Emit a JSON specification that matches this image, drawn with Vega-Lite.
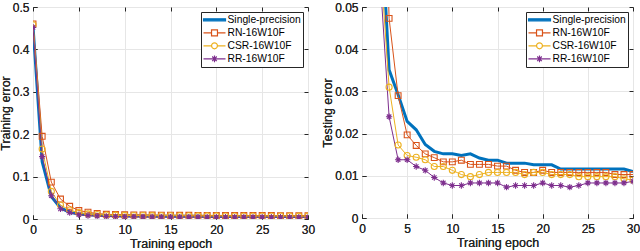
{
"$schema": "https://vega.github.io/schema/vega-lite/v6.json",
"padding": {"left": -2, "top": 0, "right": 0, "bottom": 0},
"datasets": {
"train": [
{"s":"Single-precision","e":0,"v":0.455},{"s":"Single-precision","e":1,"v":0.135},{"s":"Single-precision","e":2,"v":0.053},{"s":"Single-precision","e":3,"v":0.026},{"s":"Single-precision","e":4,"v":0.016},{"s":"Single-precision","e":5,"v":0.012},{"s":"Single-precision","e":6,"v":0.010},{"s":"Single-precision","e":7,"v":0.009},{"s":"Single-precision","e":8,"v":0.008},{"s":"Single-precision","e":9,"v":0.0075},{"s":"Single-precision","e":10,"v":0.0072},{"s":"Single-precision","e":11,"v":0.007},{"s":"Single-precision","e":12,"v":0.0068},{"s":"Single-precision","e":13,"v":0.0066},{"s":"Single-precision","e":14,"v":0.0065},{"s":"Single-precision","e":15,"v":0.0064},{"s":"Single-precision","e":16,"v":0.0063},{"s":"Single-precision","e":17,"v":0.0062},{"s":"Single-precision","e":18,"v":0.0062},{"s":"Single-precision","e":19,"v":0.0061},{"s":"Single-precision","e":20,"v":0.006},{"s":"Single-precision","e":21,"v":0.006},{"s":"Single-precision","e":22,"v":0.006},{"s":"Single-precision","e":23,"v":0.0059},{"s":"Single-precision","e":24,"v":0.0059},{"s":"Single-precision","e":25,"v":0.0058},{"s":"Single-precision","e":26,"v":0.0058},{"s":"Single-precision","e":27,"v":0.0058},{"s":"Single-precision","e":28,"v":0.0057},{"s":"Single-precision","e":29,"v":0.0057},{"s":"Single-precision","e":30,"v":0.0057},
{"s":"RN-16W10F","e":0,"v":0.46},{"s":"RN-16W10F","e":1,"v":0.195},{"s":"RN-16W10F","e":2,"v":0.087},{"s":"RN-16W10F","e":3,"v":0.047},{"s":"RN-16W10F","e":4,"v":0.03},{"s":"RN-16W10F","e":5,"v":0.02},{"s":"RN-16W10F","e":6,"v":0.016},{"s":"RN-16W10F","e":7,"v":0.013},{"s":"RN-16W10F","e":8,"v":0.011},{"s":"RN-16W10F","e":9,"v":0.0105},{"s":"RN-16W10F","e":10,"v":0.01},{"s":"RN-16W10F","e":11,"v":0.0098},{"s":"RN-16W10F","e":12,"v":0.0095},{"s":"RN-16W10F","e":13,"v":0.0093},{"s":"RN-16W10F","e":14,"v":0.009},{"s":"RN-16W10F","e":15,"v":0.009},{"s":"RN-16W10F","e":16,"v":0.0088},{"s":"RN-16W10F","e":17,"v":0.0087},{"s":"RN-16W10F","e":18,"v":0.0086},{"s":"RN-16W10F","e":19,"v":0.0085},{"s":"RN-16W10F","e":20,"v":0.0084},{"s":"RN-16W10F","e":21,"v":0.0083},{"s":"RN-16W10F","e":22,"v":0.0083},{"s":"RN-16W10F","e":23,"v":0.0082},{"s":"RN-16W10F","e":24,"v":0.0082},{"s":"RN-16W10F","e":25,"v":0.0081},{"s":"RN-16W10F","e":26,"v":0.0081},{"s":"RN-16W10F","e":27,"v":0.008},{"s":"RN-16W10F","e":28,"v":0.008},{"s":"RN-16W10F","e":29,"v":0.008},{"s":"RN-16W10F","e":30,"v":0.008},
{"s":"CSR-16W10F","e":0,"v":0.458},{"s":"CSR-16W10F","e":1,"v":0.165},{"s":"CSR-16W10F","e":2,"v":0.065},{"s":"CSR-16W10F","e":3,"v":0.033},{"s":"CSR-16W10F","e":4,"v":0.021},{"s":"CSR-16W10F","e":5,"v":0.015},{"s":"CSR-16W10F","e":6,"v":0.012},{"s":"CSR-16W10F","e":7,"v":0.0105},{"s":"CSR-16W10F","e":8,"v":0.0095},{"s":"CSR-16W10F","e":9,"v":0.009},{"s":"CSR-16W10F","e":10,"v":0.0085},{"s":"CSR-16W10F","e":11,"v":0.0082},{"s":"CSR-16W10F","e":12,"v":0.008},{"s":"CSR-16W10F","e":13,"v":0.0078},{"s":"CSR-16W10F","e":14,"v":0.0077},{"s":"CSR-16W10F","e":15,"v":0.0076},{"s":"CSR-16W10F","e":16,"v":0.0075},{"s":"CSR-16W10F","e":17,"v":0.0074},{"s":"CSR-16W10F","e":18,"v":0.0073},{"s":"CSR-16W10F","e":19,"v":0.0072},{"s":"CSR-16W10F","e":20,"v":0.0072},{"s":"CSR-16W10F","e":21,"v":0.0071},{"s":"CSR-16W10F","e":22,"v":0.0071},{"s":"CSR-16W10F","e":23,"v":0.007},{"s":"CSR-16W10F","e":24,"v":0.007},{"s":"CSR-16W10F","e":25,"v":0.007},{"s":"CSR-16W10F","e":26,"v":0.0069},{"s":"CSR-16W10F","e":27,"v":0.0069},{"s":"CSR-16W10F","e":28,"v":0.0069},{"s":"CSR-16W10F","e":29,"v":0.0068},{"s":"CSR-16W10F","e":30,"v":0.0068},
{"s":"RR-16W10F","e":0,"v":0.452},{"s":"RR-16W10F","e":1,"v":0.147},{"s":"RR-16W10F","e":2,"v":0.055},{"s":"RR-16W10F","e":3,"v":0.024},{"s":"RR-16W10F","e":4,"v":0.015},{"s":"RR-16W10F","e":5,"v":0.01},{"s":"RR-16W10F","e":6,"v":0.008},{"s":"RR-16W10F","e":7,"v":0.007},{"s":"RR-16W10F","e":8,"v":0.006},{"s":"RR-16W10F","e":9,"v":0.0055},{"s":"RR-16W10F","e":10,"v":0.0052},{"s":"RR-16W10F","e":11,"v":0.005},{"s":"RR-16W10F","e":12,"v":0.0048},{"s":"RR-16W10F","e":13,"v":0.0047},{"s":"RR-16W10F","e":14,"v":0.0046},{"s":"RR-16W10F","e":15,"v":0.0045},{"s":"RR-16W10F","e":16,"v":0.0045},{"s":"RR-16W10F","e":17,"v":0.0044},{"s":"RR-16W10F","e":18,"v":0.0044},{"s":"RR-16W10F","e":19,"v":0.0043},{"s":"RR-16W10F","e":20,"v":0.0043},{"s":"RR-16W10F","e":21,"v":0.0043},{"s":"RR-16W10F","e":22,"v":0.0042},{"s":"RR-16W10F","e":23,"v":0.0042},{"s":"RR-16W10F","e":24,"v":0.0042},{"s":"RR-16W10F","e":25,"v":0.0042},{"s":"RR-16W10F","e":26,"v":0.0041},{"s":"RR-16W10F","e":27,"v":0.0041},{"s":"RR-16W10F","e":28,"v":0.0041},{"s":"RR-16W10F","e":29,"v":0.0041},{"s":"RR-16W10F","e":30,"v":0.0041}
],
"test": [
{"s":"Single-precision","e":0,"v":0.40},{"s":"Single-precision","e":1,"v":0.12},{"s":"Single-precision","e":2,"v":0.075},{"s":"Single-precision","e":3,"v":0.0351},{"s":"Single-precision","e":4,"v":0.0292},{"s":"Single-precision","e":5,"v":0.0229},{"s":"Single-precision","e":6,"v":0.0209},{"s":"Single-precision","e":7,"v":0.0174},{"s":"Single-precision","e":8,"v":0.0158},{"s":"Single-precision","e":9,"v":0.0152},{"s":"Single-precision","e":10,"v":0.0152},{"s":"Single-precision","e":11,"v":0.0148},{"s":"Single-precision","e":12,"v":0.0152},{"s":"Single-precision","e":13,"v":0.0142},{"s":"Single-precision","e":14,"v":0.0137},{"s":"Single-precision","e":15,"v":0.0137},{"s":"Single-precision","e":16,"v":0.013},{"s":"Single-precision","e":17,"v":0.013},{"s":"Single-precision","e":18,"v":0.013},{"s":"Single-precision","e":19,"v":0.0126},{"s":"Single-precision","e":20,"v":0.0126},{"s":"Single-precision","e":21,"v":0.0126},{"s":"Single-precision","e":22,"v":0.0116},{"s":"Single-precision","e":23,"v":0.0116},{"s":"Single-precision","e":24,"v":0.0116},{"s":"Single-precision","e":25,"v":0.0116},{"s":"Single-precision","e":26,"v":0.0116},{"s":"Single-precision","e":27,"v":0.0116},{"s":"Single-precision","e":28,"v":0.0116},{"s":"Single-precision","e":29,"v":0.0116},{"s":"Single-precision","e":30,"v":0.011},
{"s":"RN-16W10F","e":0,"v":0.42},{"s":"RN-16W10F","e":1,"v":0.18},{"s":"RN-16W10F","e":2,"v":0.12},{"s":"RN-16W10F","e":3,"v":0.0473},{"s":"RN-16W10F","e":4,"v":0.029},{"s":"RN-16W10F","e":5,"v":0.0197},{"s":"RN-16W10F","e":6,"v":0.0172},{"s":"RN-16W10F","e":7,"v":0.0152},{"s":"RN-16W10F","e":8,"v":0.0143},{"s":"RN-16W10F","e":9,"v":0.0133},{"s":"RN-16W10F","e":10,"v":0.0133},{"s":"RN-16W10F","e":11,"v":0.0137},{"s":"RN-16W10F","e":12,"v":0.0127},{"s":"RN-16W10F","e":13,"v":0.0127},{"s":"RN-16W10F","e":14,"v":0.0127},{"s":"RN-16W10F","e":15,"v":0.0123},{"s":"RN-16W10F","e":16,"v":0.0123},{"s":"RN-16W10F","e":17,"v":0.0113},{"s":"RN-16W10F","e":18,"v":0.0108},{"s":"RN-16W10F","e":19,"v":0.0108},{"s":"RN-16W10F","e":20,"v":0.0113},{"s":"RN-16W10F","e":21,"v":0.0108},{"s":"RN-16W10F","e":22,"v":0.0108},{"s":"RN-16W10F","e":23,"v":0.0108},{"s":"RN-16W10F","e":24,"v":0.0108},{"s":"RN-16W10F","e":25,"v":0.0108},{"s":"RN-16W10F","e":26,"v":0.0108},{"s":"RN-16W10F","e":27,"v":0.0108},{"s":"RN-16W10F","e":28,"v":0.0103},{"s":"RN-16W10F","e":29,"v":0.0103},{"s":"RN-16W10F","e":30,"v":0.0103},
{"s":"CSR-16W10F","e":0,"v":0.41},{"s":"CSR-16W10F","e":1,"v":0.15},{"s":"CSR-16W10F","e":2,"v":0.062},{"s":"CSR-16W10F","e":3,"v":0.031},{"s":"CSR-16W10F","e":4,"v":0.0173},{"s":"CSR-16W10F","e":5,"v":0.0148},{"s":"CSR-16W10F","e":6,"v":0.0144},{"s":"CSR-16W10F","e":7,"v":0.0138},{"s":"CSR-16W10F","e":8,"v":0.0122},{"s":"CSR-16W10F","e":9,"v":0.0122},{"s":"CSR-16W10F","e":10,"v":0.0113},{"s":"CSR-16W10F","e":11,"v":0.0103},{"s":"CSR-16W10F","e":12,"v":0.0098},{"s":"CSR-16W10F","e":13,"v":0.0103},{"s":"CSR-16W10F","e":14,"v":0.0108},{"s":"CSR-16W10F","e":15,"v":0.0108},{"s":"CSR-16W10F","e":16,"v":0.0108},{"s":"CSR-16W10F","e":17,"v":0.0108},{"s":"CSR-16W10F","e":18,"v":0.0103},{"s":"CSR-16W10F","e":19,"v":0.0108},{"s":"CSR-16W10F","e":20,"v":0.0108},{"s":"CSR-16W10F","e":21,"v":0.0103},{"s":"CSR-16W10F","e":22,"v":0.0103},{"s":"CSR-16W10F","e":23,"v":0.0103},{"s":"CSR-16W10F","e":24,"v":0.0098},{"s":"CSR-16W10F","e":25,"v":0.0098},{"s":"CSR-16W10F","e":26,"v":0.0098},{"s":"CSR-16W10F","e":27,"v":0.0098},{"s":"CSR-16W10F","e":28,"v":0.0098},{"s":"CSR-16W10F","e":29,"v":0.0093},{"s":"CSR-16W10F","e":30,"v":0.009},
{"s":"RR-16W10F","e":0,"v":0.40},{"s":"RR-16W10F","e":1,"v":0.13},{"s":"RR-16W10F","e":2,"v":0.057},{"s":"RR-16W10F","e":3,"v":0.024},{"s":"RR-16W10F","e":4,"v":0.0138},{"s":"RR-16W10F","e":5,"v":0.0138},{"s":"RR-16W10F","e":6,"v":0.0122},{"s":"RR-16W10F","e":7,"v":0.0113},{"s":"RR-16W10F","e":8,"v":0.0096},{"s":"RR-16W10F","e":9,"v":0.0083},{"s":"RR-16W10F","e":10,"v":0.0077},{"s":"RR-16W10F","e":11,"v":0.0077},{"s":"RR-16W10F","e":12,"v":0.0083},{"s":"RR-16W10F","e":13,"v":0.0083},{"s":"RR-16W10F","e":14,"v":0.0083},{"s":"RR-16W10F","e":15,"v":0.0083},{"s":"RR-16W10F","e":16,"v":0.0073},{"s":"RR-16W10F","e":17,"v":0.0077},{"s":"RR-16W10F","e":18,"v":0.0077},{"s":"RR-16W10F","e":19,"v":0.0077},{"s":"RR-16W10F","e":20,"v":0.0083},{"s":"RR-16W10F","e":21,"v":0.0077},{"s":"RR-16W10F","e":22,"v":0.0077},{"s":"RR-16W10F","e":23,"v":0.0073},{"s":"RR-16W10F","e":24,"v":0.0077},{"s":"RR-16W10F","e":25,"v":0.0083},{"s":"RR-16W10F","e":26,"v":0.0083},{"s":"RR-16W10F","e":27,"v":0.0083},{"s":"RR-16W10F","e":28,"v":0.0083},{"s":"RR-16W10F","e":29,"v":0.0083},{"s":"RR-16W10F","e":30,"v":0.0087}
]
},
"config": {
  "font": "Liberation Sans",
  "view": {"stroke": "#262626", "strokeWidth": 1},
  "axis": {
    "domain": false, "grid": true, "gridColor": "#e6e6e6", "gridWidth": 1,
    "tickColor": "#262626", "tickSize": -4, "tickWidth": 1,
    "labelFont": "Liberation Sans", "labelFontSize": 12, "labelColor": "#262626",
    "labelFlush": false, "labelOverlap": false,
    "titleFont": "Liberation Sans", "titleFontSize": 12.5, "titleFontWeight": "normal", "titleColor": "#262626"
  },
  "axisX": {"labelPadding": 9, "titlePadding": 2},
  "axisY": {"labelPadding": 8, "titlePadding": 1},
  "legend": {
    "orient": "top-right", "offset": 5, "title": null,
    "strokeColor": "#262626", "fillColor": "white", "padding": 1.5,
    "rowPadding": 0, "clipHeight": 12.7, "symbolSize": 484, "symbolStrokeWidth": 1.2,
    "labelFont": "Liberation Sans", "labelFontSize": 10.3, "labelColor": "#000000", "labelOffset": 1
  }
},
"resolve": {"scale": {"color": "independent", "shape": "independent"}, "legend": {"color": "independent"}},
"spacing": 4,
"hconcat": [
  {
    "width": 275, "height": 212,
    "data": {"name": "train"},
    "resolve": {"axis": {"x": "independent", "y": "independent"}},
    "encoding": {
      "x": {"field": "e", "type": "quantitative", "scale": {"domain": [0, 30], "nice": false}, "axis": {"title": "Training epoch", "grid": true, "values": [0,5,10,15,20,25,30]}},
      "y": {"field": "v", "type": "quantitative", "scale": {"domain": [0, 0.5], "nice": false}, "axis": {"title": "Training error", "grid": true, "titleX": -21, "values": [0,0.1,0.2,0.3,0.4,0.5], "format": ".2~f"}},
      "color": {"field": "s", "type": "nominal",
        "scale": {"domain": ["Single-precision","RN-16W10F","CSR-16W10F","RR-16W10F"], "range": ["#0072BD","#D95319","#EDB120","#7E2F8E"]},
        "legend": {"encode": {"symbols": {"update": {
          "size": {"value": 484},
          "strokeWidth": {"value": 1.2},
          "shape": {"signal": "datum.value === 'Single-precision' ? 'M-1,-0.09H1V0.09H-1Z' : datum.value === 'RN-16W10F' ? 'M-1,0H-0.27M0.27,0H1M-0.27,-0.27H0.27V0.27H-0.27Z' : datum.value === 'CSR-16W10F' ? 'M-1,0H-0.27M0.27,0H1M0.27,0A0.27,0.27 0 1,1 -0.27,0A0.27,0.27 0 1,1 0.27,0' : 'M-1,0H1M0,-0.3V0.3M-0.21,-0.21L0.21,0.21M-0.21,0.21L0.21,-0.21'"},
          "fill": {"signal": "datum.value === 'Single-precision' ? '#0072BD' : 'transparent'"}
        }}}}}
    },
    "layer": [
      {"transform": [{"filter": "datum.s === 'Single-precision'"}], "mark": {"type": "line", "strokeWidth": 3, "clip": true},
       "encoding": {
         "x": {"field": "e", "type": "quantitative", "axis": {"orient": "top", "labels": false, "title": null, "grid": false, "values": [0,5,10,15,20,25,30]}},
         "y": {"field": "v", "type": "quantitative", "axis": {"orient": "right", "labels": false, "title": null, "grid": false, "values": [0,0.1,0.2,0.3,0.4,0.5]}}
       }},
      {"transform": [{"filter": "datum.s !== 'Single-precision'"}], "mark": {"type": "line", "strokeWidth": 1, "clip": true}},
      {"transform": [{"filter": "datum.s !== 'Single-precision'"}], "mark": {"type": "point", "filled": false, "strokeWidth": 1.1, "clip": true, "opacity": 1},
       "encoding": {
         "shape": {"field": "s", "type": "nominal", "scale": {"domain": ["RN-16W10F","CSR-16W10F","RR-16W10F"], "range": ["square","circle","M-1,0H1M0,-1V1M-0.7,-0.7L0.7,0.7M-0.7,0.7L0.7,-0.7"]}, "legend": null},
         "size": {"field": "s", "type": "nominal", "scale": {"domain": ["RN-16W10F","CSR-16W10F","RR-16W10F"], "range": [34, 40, 40]}, "legend": null}
       }}
    ]
  },
  {
    "width": 271, "height": 211,
    "data": {"name": "test"},
    "resolve": {"axis": {"x": "independent", "y": "independent"}},
    "encoding": {
      "x": {"field": "e", "type": "quantitative", "scale": {"domain": [0, 30], "nice": false}, "axis": {"title": "Training epoch", "grid": true, "values": [0,5,10,15,20,25,30]}},
      "y": {"field": "v", "type": "quantitative", "scale": {"domain": [0, 0.05], "nice": false}, "axis": {"title": "Testing error", "grid": true, "titleX": -28, "values": [0,0.01,0.02,0.03,0.04,0.05], "format": ".2~f"}},
      "color": {"field": "s", "type": "nominal",
        "scale": {"domain": ["Single-precision","RN-16W10F","CSR-16W10F","RR-16W10F"], "range": ["#0072BD","#D95319","#EDB120","#7E2F8E"]},
        "legend": {"encode": {"symbols": {"update": {
          "size": {"value": 484},
          "strokeWidth": {"value": 1.2},
          "shape": {"signal": "datum.value === 'Single-precision' ? 'M-1,-0.09H1V0.09H-1Z' : datum.value === 'RN-16W10F' ? 'M-1,0H-0.27M0.27,0H1M-0.27,-0.27H0.27V0.27H-0.27Z' : datum.value === 'CSR-16W10F' ? 'M-1,0H-0.27M0.27,0H1M0.27,0A0.27,0.27 0 1,1 -0.27,0A0.27,0.27 0 1,1 0.27,0' : 'M-1,0H1M0,-0.3V0.3M-0.21,-0.21L0.21,0.21M-0.21,0.21L0.21,-0.21'"},
          "fill": {"signal": "datum.value === 'Single-precision' ? '#0072BD' : 'transparent'"}
        }}}}}
    },
    "layer": [
      {"transform": [{"filter": "datum.s === 'Single-precision'"}], "mark": {"type": "line", "strokeWidth": 3, "clip": true},
       "encoding": {
         "x": {"field": "e", "type": "quantitative", "axis": {"orient": "top", "labels": false, "title": null, "grid": false, "values": [0,5,10,15,20,25,30]}},
         "y": {"field": "v", "type": "quantitative", "axis": {"orient": "right", "labels": false, "title": null, "grid": false, "values": [0,0.01,0.02,0.03,0.04,0.05]}}
       }},
      {"transform": [{"filter": "datum.s !== 'Single-precision'"}], "mark": {"type": "line", "strokeWidth": 1, "clip": true}},
      {"transform": [{"filter": "datum.s !== 'Single-precision'"}], "mark": {"type": "point", "filled": false, "strokeWidth": 1.1, "clip": true, "opacity": 1},
       "encoding": {
         "shape": {"field": "s", "type": "nominal", "scale": {"domain": ["RN-16W10F","CSR-16W10F","RR-16W10F"], "range": ["square","circle","M-1,0H1M0,-1V1M-0.7,-0.7L0.7,0.7M-0.7,0.7L0.7,-0.7"]}, "legend": null},
         "size": {"field": "s", "type": "nominal", "scale": {"domain": ["RN-16W10F","CSR-16W10F","RR-16W10F"], "range": [34, 40, 40]}, "legend": null}
       }}
    ]
  }
]
}
